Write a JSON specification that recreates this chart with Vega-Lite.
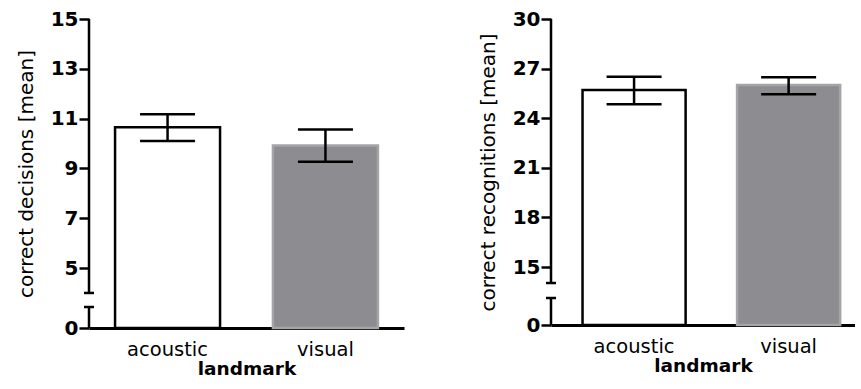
{
  "$schema": "https://vega.github.io/schema/vega-lite/v6.json",
  "padding": {"left": 16, "top": 9, "right": 0, "bottom": 0},
  "autosize": {"type": "pad"},
  "spacing": 74,
  "config": {
    "view": {"stroke": null},
    "font": "DejaVu Sans",
    "axis": {"domainColor": "black", "tickColor": "black", "labelColor": "black", "titleColor": "black", "domainWidth": 2.5, "tickWidth": 2.5, "grid": false},
    "axisY": {"domain": false, "tickSize": 10, "labelFontSize": 20, "labelFontWeight": "bold", "labelPadding": 1, "titleFontSize": 20, "titleFontWeight": "normal", "titlePadding": 14},
    "axisX": {"ticks": false, "labelFontSize": 19.5, "labelPadding": 12, "labelAngle": 0, "titleFontSize": 18.5, "titleFontWeight": "bold", "titlePadding": 1, "domainWidth": 3}
  },
  "datasets": {
    "decisions": [
      {"landmark": "acoustic", "mean": 10.65, "lo": 10.1, "hi": 11.17},
      {"landmark": "visual", "mean": 9.92, "lo": 9.27, "hi": 10.56}
    ],
    "recognitions": [
      {"landmark": "acoustic", "mean": 25.71, "lo": 24.85, "hi": 26.51},
      {"landmark": "visual", "mean": 26.01, "lo": 25.45, "hi": 26.47}
    ],
    "brkLeft": [
      {"y": 2.92, "y2": 15, "cap": 2.92},
      {"y": 0, "y2": 1.75, "cap": 1.75}
    ],
    "brkRight": [
      {"y": 10.86, "y2": 30, "cap": 10.86},
      {"y": 0, "y2": 6.98, "cap": 6.98}
    ]
  },
  "hconcat": [
    {
      "width": 315,
      "height": 309,
      "layer": [
        {
          "data": {"name": "decisions"},
          "mark": {"type": "bar", "strokeWidth": 2.5},
          "encoding": {
            "x": {"field": "landmark", "type": "nominal", "title": "landmark", "scale": {"paddingInner": 0.335, "paddingOuter": 0.165}},
            "y": {"field": "mean", "type": "quantitative", "title": "correct decisions [mean]", "scale": {"domain": [0, 5, 15], "range": [309, 249, 0], "nice": false, "zero": false}, "axis": {"values": [0, 5, 7, 9, 11, 13, 15]}},
            "fill": {"field": "landmark", "type": "nominal", "scale": {"domain": ["acoustic", "visual"], "range": ["#ffffff", "#8d8c91"]}, "legend": null},
            "stroke": {"field": "landmark", "type": "nominal", "scale": {"domain": ["acoustic", "visual"], "range": ["#000000", "#a5a5a7"]}, "legend": null}
          }
        },
        {
          "data": {"name": "decisions"},
          "mark": {"type": "rule", "strokeWidth": 2.5, "color": "black"},
          "encoding": {
            "x": {"field": "landmark", "type": "nominal", "title": "landmark"},
            "y": {"field": "lo", "type": "quantitative", "title": "correct decisions [mean]"},
            "y2": {"field": "hi"}
          }
        },
        {
          "data": {"name": "decisions"},
          "mark": {"type": "tick", "thickness": 2.5, "size": 55, "color": "black", "opacity": 1},
          "encoding": {
            "x": {"field": "landmark", "type": "nominal", "title": "landmark"},
            "y": {"field": "lo", "type": "quantitative", "title": "correct decisions [mean]"}
          }
        },
        {
          "data": {"name": "decisions"},
          "mark": {"type": "tick", "thickness": 2.5, "size": 55, "color": "black", "opacity": 1},
          "encoding": {
            "x": {"field": "landmark", "type": "nominal", "title": "landmark"},
            "y": {"field": "hi", "type": "quantitative", "title": "correct decisions [mean]"}
          }
        },
        {
          "data": {"name": "brkLeft"},
          "mark": {"type": "rule", "strokeWidth": 2.5, "color": "black"},
          "encoding": {
            "x": {"value": 0},
            "y": {"field": "y", "type": "quantitative", "title": "correct decisions [mean]"},
            "y2": {"field": "y2"}
          }
        },
        {
          "data": {"name": "brkLeft"},
          "mark": {"type": "tick", "thickness": 2.5, "size": 10, "color": "black", "opacity": 1, "orient": "horizontal"},
          "encoding": {
            "x": {"value": 0},
            "y": {"field": "cap", "type": "quantitative", "title": "correct decisions [mean]"}
          }
        }
      ]
    },
    {
      "width": 304,
      "height": 306,
      "layer": [
        {
          "data": {"name": "recognitions"},
          "mark": {"type": "bar", "strokeWidth": 2.5},
          "encoding": {
            "x": {"field": "landmark", "type": "nominal", "title": "landmark", "scale": {"paddingInner": 0.333, "paddingOuter": 0.15, "align": 0.68}},
            "y": {"field": "mean", "type": "quantitative", "title": "correct recognitions [mean]", "scale": {"domain": [0, 15, 30], "range": [306, 248, 0], "nice": false, "zero": false}, "axis": {"values": [0, 15, 18, 21, 24, 27, 30]}},
            "fill": {"field": "landmark", "type": "nominal", "scale": {"domain": ["acoustic", "visual"], "range": ["#ffffff", "#8d8c91"]}, "legend": null},
            "stroke": {"field": "landmark", "type": "nominal", "scale": {"domain": ["acoustic", "visual"], "range": ["#000000", "#a5a5a7"]}, "legend": null}
          }
        },
        {
          "data": {"name": "recognitions"},
          "mark": {"type": "rule", "strokeWidth": 2.5, "color": "black"},
          "encoding": {
            "x": {"field": "landmark", "type": "nominal", "title": "landmark"},
            "y": {"field": "lo", "type": "quantitative", "title": "correct recognitions [mean]"},
            "y2": {"field": "hi"}
          }
        },
        {
          "data": {"name": "recognitions"},
          "mark": {"type": "tick", "thickness": 2.5, "size": 55, "color": "black", "opacity": 1},
          "encoding": {
            "x": {"field": "landmark", "type": "nominal", "title": "landmark"},
            "y": {"field": "lo", "type": "quantitative", "title": "correct recognitions [mean]"}
          }
        },
        {
          "data": {"name": "recognitions"},
          "mark": {"type": "tick", "thickness": 2.5, "size": 55, "color": "black", "opacity": 1},
          "encoding": {
            "x": {"field": "landmark", "type": "nominal", "title": "landmark"},
            "y": {"field": "hi", "type": "quantitative", "title": "correct recognitions [mean]"}
          }
        },
        {
          "data": {"name": "brkRight"},
          "mark": {"type": "rule", "strokeWidth": 2.5, "color": "black"},
          "encoding": {
            "x": {"value": 0},
            "y": {"field": "y", "type": "quantitative", "title": "correct recognitions [mean]"},
            "y2": {"field": "y2"}
          }
        },
        {
          "data": {"name": "brkRight"},
          "mark": {"type": "tick", "thickness": 2.5, "size": 10, "color": "black", "opacity": 1, "orient": "horizontal"},
          "encoding": {
            "x": {"value": 0},
            "y": {"field": "cap", "type": "quantitative", "title": "correct recognitions [mean]"}
          }
        }
      ]
    }
  ]
}
